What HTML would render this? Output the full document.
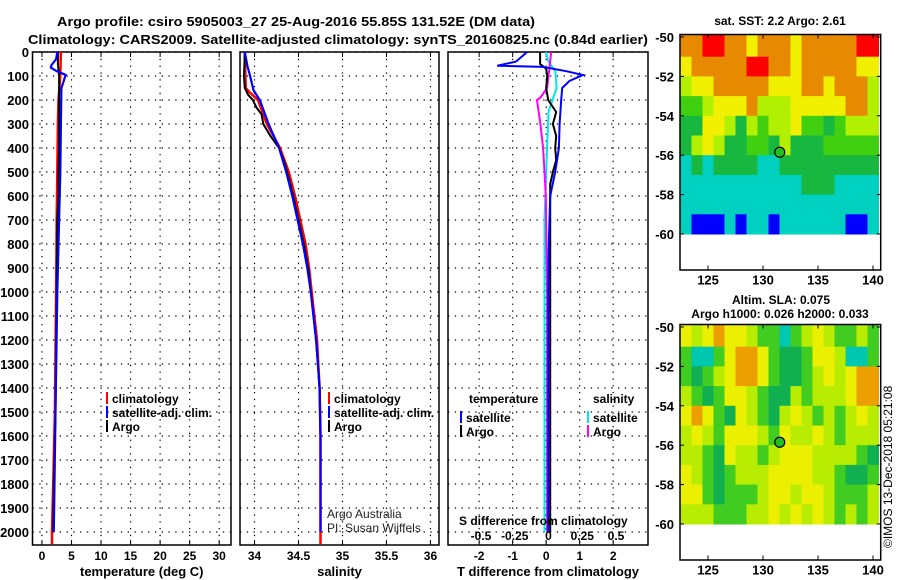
<!DOCTYPE html>
<html><head><meta charset="utf-8">
<style>
html,body{margin:0;padding:0;background:#fff;}
svg{display:block;font-family:"Liberation Sans",sans-serif;}
.b{font-weight:bold;font-size:13px;}
</style></head>
<body>
<svg id="c" width="900" height="580" viewBox="0 0 900 580" xmlns="http://www.w3.org/2000/svg">
<text x="296" y="26" class="b" text-anchor="middle" textLength="478" lengthAdjust="spacingAndGlyphs">Argo profile: csiro 5905003_27 25-Aug-2016 55.85S 131.52E (DM data)</text>
<text x="338" y="44" class="b" text-anchor="middle" textLength="620" lengthAdjust="spacingAndGlyphs">Climatology: CARS2009. Satellite-adjusted climatology: synTS_20160825.nc (0.84d earlier)</text>
<g id="g"></g>
</svg>
<script>
// ---- data ----
const depthTicks=[0,100,200,300,400,500,600,700,800,900,1000,1100,1200,1300,1400,1500,1600,1700,1800,1900,2000];
const tempTicks=[0,5,10,15,20,25,30];
const salTicks=[34,34.5,35,35.5,36];
const tdiffTicks=[-2,-1,0,1,2];
const sdiffTicks=[-0.5,-0.25,0,0.25,0.5];
const sdiffLabels=['-0.5','-0.25','0','0.25','0.5'];
const latTicks=[-50,-52,-54,-56,-58,-60];
const lonTicks=[125,130,135,140];

const tClimD=[0,100,200,300,500,700,1000,1500,1800,2000,2050];
const tClimV=[3.2,3.1,2.8,2.7,2.6,2.5,2.4,2.2,1.9,1.7,1.7];
const tSatD=[0,30,55,65,80,95,120,150,300,500,700,1000,1500,2000];
const tSatV=[2.6,2.4,1.6,1.5,2.5,4.0,3.7,3.3,3.2,3.1,2.9,2.6,2.3,2.0];
const tArgoD=[0,50,100,150,200,300,400,500,600,700,1000,1500,1800,2000];
const tArgoV=[2.7,2.7,2.9,2.9,2.9,2.9,2.9,2.8,2.8,2.6,2.5,2.3,2.0,1.9];

const sClimD=[0,150,170,200,300,400,500,600,700,800,900,1000,1200,1400,1600,2000,2050];
const sClimV=[33.89,33.9,33.95,34.04,34.14,34.29,34.39,34.46,34.52,34.58,34.62,34.65,34.71,34.74,34.75,34.75,34.75];
const sSatD=[0,60,100,160,200,300,400,500,600,700,800,900,1000,1200,1400,1600,2000];
const sSatV=[33.89,33.92,33.95,33.99,34.06,34.16,34.28,34.36,34.43,34.49,34.55,34.6,34.64,34.7,34.74,34.75,34.75];
const sArgoD=[0,100,150,180,200,230,260,300,350,400,450,500,600,700,800,900,1000,1200,1400,1600,2000];
const sArgoV=[33.89,33.88,33.89,33.93,33.98,34.02,34.08,34.1,34.18,34.28,34.33,34.37,34.44,34.5,34.56,34.61,34.64,34.7,34.74,34.75,34.75];

const dTSatD=[0,40,57,62,80,96,120,150,200,300,400,500,600,800,1000,2000];
const dTSatV=[-0.57,-0.9,-1.46,-0.1,0.6,1.1,0.7,0.48,0.45,0.4,0.38,0.27,0.12,0.08,0.06,0.06];
const dTArgoD=[0,50,70,100,150,200,250,300,350,400,450,500,550,600,1000,2000];
const dTArgoV=[-0.18,-0.18,0.0,0.03,0.0,0.06,0.3,0.2,0.3,0.27,0.3,0.2,0.12,0.12,0.12,0.12];
const dSSatD=[0,40,80,150,200,250,400,700,1000,2000];
const dSSatV=[-0.02,0.0,0.05,0.06,0.03,0.0,-0.01,-0.03,-0.03,-0.03];
const dSArgoD=[0,100,150,190,200,300,400,500,600,1000,2000];
const dSArgoV=[0.02,0.0,-0.01,-0.06,-0.085,-0.06,-0.04,-0.03,-0.02,-0.01,-0.01];

// heatmaps: rows lat -50..-60 (1 deg), cols lon 122.5..140.5 (1 deg)
const sstRows=["OORROOYOOOYOOOOORR","YOOOOORROOYOOOOOYY","LYYOOOOOYYYOOYOOOL","ggLYYYOLLLYYYYYOOL","GGYYLGLgLLYggGgLLL","GLYLGGggGLGGGggggg","CGCGGGGCCGGGGGGGGG","CCCCCCCCCCCGGGCCCC","CCCCCCCCCCCCCCCCCC","CBBBCBCCBCCCCCCBBC"];
const slaRows=["YLYOYYLggCgLYLggLg","gCCgYOOYgGGgYYLCCg","gGgLYOOYgGGgLYLYOO","LgGgYYLgGGLgLLLYOO","YOYgGYLgGLYLgLgLYL","LYLgYYYLgYLLYLgLLL","LLgGYLLgLYYYLLLLgG","YLgGgLLLYYYYLLgGGg","YYgGgggLYYLYYLgggL","LLLgggLLYLYLYLgLgL"];
const palette={R:"#ff0000",O:"#e88a00",Y:"#f0f000",L:"#b0f000",g:"#40d010",G:"#18b840",C:"#00d0c0",B:"#0000ff"};
const slaPalette={O:"#eca000",Y:"#eaf000",L:"#b8ec00",g:"#40cc20",G:"#10b050",C:"#00c8b0"};
const argoLon=131.52, argoLat=-55.85;

// ---- drawing ----
const NS="http://www.w3.org/2000/svg";
const G=document.getElementById('g');
function el(tag,attrs,parent){const e=document.createElementNS(NS,tag);for(const k in attrs)e.setAttribute(k,attrs[k]);(parent||G).appendChild(e);return e;}
function txt(x,y,s,attrs,parent){const e=el('text',Object.assign({x:x,y:y},attrs||{}),parent);e.textContent=s;return e;}

const yTop=52,yBot=545;
const yD=d=>yTop+d*0.24;
const panels=[
 {name:'temperature-panel',x0:32.5,x1:231,d0:-1.6,d1:32,ticks:tempTicks,lab:'temperature (deg C)'},
 {name:'salinity-panel',x0:240,x1:439,d0:33.835,d1:36.097,ticks:salTicks,lab:'salinity'},
 {name:'difference-panel',x0:448,x1:648,d0:-2.93,d1:3.04,ticks:tdiffTicks,lab:'T difference from climatology'}];
panels.forEach(p=>{p.sx=v=>p.x0+(v-p.d0)/(p.d1-p.d0)*(p.x1-p.x0);});
const sdx=v=>548.5+v*135;

panels.forEach((p,i)=>{
 const g=el('g',{});
 
 
 depthTicks.forEach(d=>{const y=yD(d);
  const l=el('line',{x1:p.x0,x2:p.x1,y1:y,y2:y,stroke:'#000','stroke-width':1.2,'stroke-dasharray':'1.3 5.5'},g);
  
  });
 p.ticks.forEach(t=>{const x=p.sx(t);
  const l=el('line',{x1:x,x2:x,y1:yTop,y2:yBot,stroke:'#000','stroke-width':1.2,'stroke-dasharray':'1.3 5.5'},g);
  
  
  el('line',{x1:x,x2:x,y1:yBot,y2:yBot-5,stroke:'#000'},g);
  el('line',{x1:x,x2:x,y1:yTop,y2:yTop+5,stroke:'#000'},g);
  const tl=txt(x,560,String(t),{'text-anchor':'middle','font-size':12,'font-weight':'bold'},g);
  
  });
 const r=el('rect',{x:p.x0,y:yTop,width:p.x1-p.x0,height:yBot-yTop,fill:'none',stroke:'#000','stroke-width':1.5},g);
 
 
 const xl=txt((p.x0+p.x1)/2+(i==0?10:0),576,p.lab,{'text-anchor':'middle','font-size':13,'font-weight':'bold'},g);
 
 
});
depthTicks.forEach(d=>{const t=txt(29,yD(d)+5,String(d),{'text-anchor':'end','font-size':13,'font-weight':'bold'});
 
 });

function line(D,V,sx,color,name,w){
 const pts=D.map((d,i)=>sx(V[i]).toFixed(1)+','+yD(d).toFixed(1)).join(' ');
 const l=el('polyline',{points:pts,fill:'none',stroke:color,'stroke-width':w||2});
 
 }
const P=panels;
line(tClimD,tClimV,P[0].sx,'#ff0000','temp-climatology-line',2.5);
line(tArgoD,tArgoV,P[0].sx,'#000','temp-argo-line',2);
line(tSatD,tSatV,P[0].sx,'#0000ff','temp-satellite-line',2.2);
line(sClimD,sClimV,P[1].sx,'#ff0000','salinity-climatology-line',2.5);
line(sArgoD,sArgoV,P[1].sx,'#000','salinity-argo-line',2);
line(sSatD,sSatV,P[1].sx,'#0000ff','salinity-satellite-line',2.2);
line(dSSatD,dSSatV,sdx,'#00e8e8','s-diff-satellite-line',2);
line(dSArgoD,dSArgoV,sdx,'#ff00ff','s-diff-argo-line',2);
line(dTArgoD,dTArgoV,P[2].sx,'#000','t-diff-argo-line',2);
line(dTSatD,dTSatV,P[2].sx,'#0000ff','t-diff-satellite-line',2);

function legend(x,y,items,name){
 const g=el('g',{});
 
 
 items.forEach((it,i)=>{const yy=y+i*14;
  el('line',{x1:x,x2:x,y1:yy-6,y2:yy+6,stroke:it[1],'stroke-width':2},g);
  const t=txt(x+5,yy+5,it[0],{'font-size':12,'font-weight':'bold'},g);
  
  });}
legend(107,398,[['climatology','#ff0000'],['satellite-adj. clim.','#0000ff'],['Argo','#000']],'temperature-legend');
legend(329,398,[['climatology','#ff0000'],['satellite-adj. clim.','#0000ff'],['Argo','#000']],'salinity-legend');
txt(469,403,'temperature',{'font-size':12,'font-weight':'bold'});
legend(461,417,[['satellite','#0000ff'],['Argo','#000']],'t-diff-legend');
txt(593,403,'salinity',{'font-size':12,'font-weight':'bold'});
legend(588,417,[['satellite','#00e8e8'],['Argo','#ff00ff']],'s-diff-legend');
txt(459,525,'S difference from climatology',{'font-size':12,'font-weight':'bold'});
sdiffTicks.forEach((t,i)=>{const e=txt(sdx(t),540,sdiffLabels[i],{'text-anchor':'middle','font-size':12,'font-weight':'bold'});
 
 });
txt(327,518,'Argo Australia',{'font-size':12,'fill':'#222'});
txt(327,532,'PI: Susan Wijffels',{'font-size':12,'fill':'#222'});

// maps
function map(y0,rows,pal,name){
 const x0=680,x1=880.7,lonA=122.45,lonB=140.7;
 const sx=l=>x0+(l-lonA)/(lonB-lonA)*(x1-x0);
 const sy=la=>y0+2.5+(-50-la)*19.7;
 const g=el('g',{});
 
 
 rows.forEach((row,ri)=>{for(let ci=0;ci<row.length;ci++){
  const la=-50-ri, lo=122.5+ci;
  const yy=ri==0?y0:sy(la);
  const c=el('rect',{x:sx(lo).toFixed(1),y:yy.toFixed(1),width:(sx(lo+1)-sx(lo)+0.5).toFixed(1),height:(sy(la-1)-yy+0.5).toFixed(1),fill:pal[row[ci]]},g);
  
  }});
 const fr=el('rect',{x:x0,y:y0,width:x1-x0,height:235.5,fill:'none',stroke:'#000','stroke-width':1.5},g);
 
 
 latTicks.forEach(la=>{const y=sy(la);el('line',{x1:x0,x2:x0+4,y1:y,y2:y,stroke:'#000'},g);el('line',{x1:x1,x2:x1-4,y1:y,y2:y,stroke:'#000'},g);
  const t=txt(674,y+5,String(la),{'text-anchor':'end','font-size':13,'font-weight':'bold'},g);
  
  });
 lonTicks.forEach(lo=>{const x=sx(lo);el('line',{x1:x,x2:x,y1:y0,y2:y0+4,stroke:'#000'},g);el('line',{x1:x,x2:x,y1:y0+235.5,y2:y0+231,stroke:'#000'},g);
  const t=txt(x,y0+250,String(lo),{'text-anchor':'middle','font-size':13,'font-weight':'bold'},g);
  
  });
 const m=el('circle',{cx:sx(argoLon),cy:sy(argoLat),r:5,fill:'#20c020',stroke:'#000','stroke-width':1.2},g);
 
 
}
map(34.5,sstRows,palette,'sst-map');
map(324.5,slaRows,slaPalette,'sla-map');
txt(780,25,'sat. SST: 2.2 Argo: 2.61',{'text-anchor':'middle','font-size':12,'font-weight':'bold'});
txt(781,304,'Altim. SLA: 0.075',{'text-anchor':'middle','font-size':12,'font-weight':'bold'});
txt(780,318,'Argo h1000: 0.026 h2000: 0.033',{'text-anchor':'middle','font-size':12,'font-weight':'bold'});
txt(0,0,'©IMOS 13-Dec-2018 05:21:08',{'font-size':12,transform:'translate(892,548) rotate(-90)'});
</script>
</body></html>
